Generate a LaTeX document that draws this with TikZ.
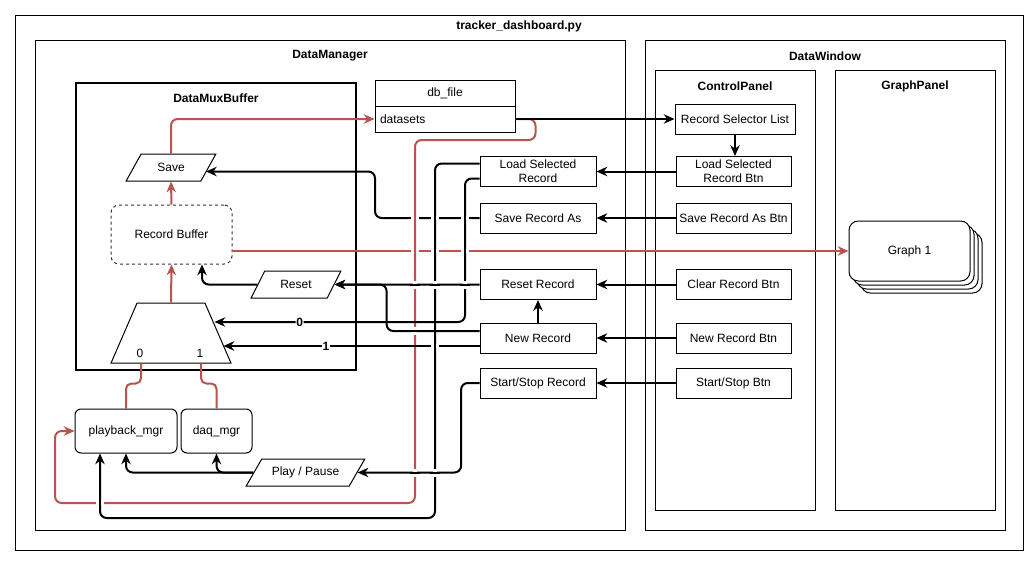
\documentclass[tikz,border=0pt]{standalone}
\usepackage{fontspec}
\setmainfont{Liberation Sans}
\usetikzlibrary{arrows.meta,calc,shapes.geometric,shadows}
\definecolor{datared}{HTML}{B85450}

\tikzset{
		every node/.style = {font=\fontsize{9}{10.5}\selectfont},
		container/.style  = {draw, line width=0.75pt, fill=white, inner sep=0pt},
		ttl/.style        = {font=\fontsize{9}{10.5}\selectfont\bfseries, inner sep=1pt},
		box/.style        = {draw, line width=0.75pt, fill=white, align=center,
				inner sep=1pt, minimum width=87pt, minimum height=22.5pt},
		btn/.style        = {box, minimum width=86.25pt},
		mgr/.style        = {box, rounded corners=4.5pt, minimum height=33pt},
		iobox/.style      = {draw, line width=0.75pt, fill=white, shape=trapezium,
				trapezium stretches=true, trapezium left angle=56,
				trapezium right angle=124, minimum height=20.25pt, inner sep=1pt},
		conn/.style       = {draw, line width=1.5pt, rounded corners=5pt,
				-{Stealth[length=8pt,width=7pt,inset=2.5pt]}},
		dconn/.style      = {conn, datared},
		dline/.style      = {draw, datared, line width=1.5pt, rounded corners=4pt},
		elbl/.style       = {fill=white, inner sep=0.5pt, font=\fontsize{9}{10.5}\selectfont\bfseries}
	}

\begin{document}
\begin{tikzpicture}[x=0.75pt, y=-0.75pt]
	\useasboundingbox (0,0) rectangle (1036,561);

	\node[container, minimum width=756pt, minimum height=401.25pt] (frame) at (519,282.5) {};
	\node[container, minimum width=442.5pt, minimum height=367.5pt] (dm) at (330,285) {};
	\node[container, minimum width=270pt, minimum height=367.5pt] (dw) at (825,285) {};
	\node[container, line width=1.5pt, minimum width=210pt, minimum height=215.25pt] (dmb) at (216,226.5) {};
	\node[container, minimum width=120pt, minimum height=330pt] (cp) at (735,290) {};
	\node[container, minimum width=120pt, minimum height=330pt] (gp) at (915,290) {};

	\node[ttl] (frame title) at ($(frame.north)+(0,12)$) {tracker\_dashboard.py};
	\node[ttl] (dm title) at ($(dm.north)+(0,16.5)$) {DataManager};
	\node[ttl] (dw title) at ($(dw.north)+(0,16.5)$) {DataWindow};
	\node[ttl] (dmb title) at ($(dmb.north)+(0,16.5)$) {DataMuxBuffer};
	\node[ttl] (cp title) at ($(cp.north)+(0,16.5)$) {ControlPanel};
	\node[ttl] (gp title) at ($(gp.north)+(0,16.5)$) {GraphPanel};

	\node[box, minimum width=105pt, minimum height=19.5pt] (dbfile) at (445,93) {db\_file};
	\node[box, minimum height=19.5pt, text width=97.5pt, inner xsep=3.75pt, align=left] (datasets) at (445,119) {datasets};

	\node[box, minimum width=90pt] (rsl) at (735,119) {Record Selector List};
	\node[btn] (lsrb) at (733.5,171.5) {Load Selected\\Record Btn};
	\node[btn] (srab) at (733.5,218) {Save Record As Btn};
	\node[btn] (crb) at (733.5,284.5) {Clear Record Btn};
	\node[btn] (nrb) at (733.5,338) {New Record Btn};
	\node[btn] (ssb) at (733.5,383) {Start/Stop Btn};

	\node[box, rounded corners=7pt, minimum width=90.75pt, minimum height=45pt,
		copy shadow={shadow xshift=9pt, shadow yshift=-9pt},
		copy shadow={shadow xshift=6pt, shadow yshift=-6pt},
		copy shadow={shadow xshift=3pt, shadow yshift=-3pt}] (graph) at (909.5,251) {Graph 1};

	\node[box] (lsr) at (538,171.5) {Load Selected\\Record};
	\node[box] (sra) at (538,218) {Save Record As};
	\node[box] (rr) at (538,284.5) {Reset Record};
	\node[box] (nr) at (538,338) {New Record};
	\node[box] (ssr) at (538,383) {Start/Stop Record};

	\node[iobox, minimum width=67.5pt] (save) at (171,167.5) {Save};
	\node[box, rounded corners=6pt, dash pattern=on 2.25pt off 2.25pt, draw=black!80,
		minimum width=90.75pt, minimum height=44.25pt] (recbuf) at (171.5,234.5) {Record Buffer};
	\node[iobox, minimum width=67.5pt] (reset) at (296,284.5) {Reset};
	\node[draw, line width=0.75pt, fill=white, shape=trapezium, trapezium stretches=true,
		trapezium left angle=69, trapezium right angle=69,
		minimum width=90pt, minimum height=45pt] (mux) at (171,333) {};
	\node (mux0) at ($(mux.south)+(-31,-10)$) {0};
	\node (mux1) at ($(mux.south)+(29,-10)$) {1};

	\node[mgr, minimum width=76.5pt] (playback) at (126,431) {playback\_mgr};
	\node[mgr, minimum width=53.25pt] (daq) at (216.5,431) {daq\_mgr};
	\node[iobox, minimum width=89.25pt, trapezium left angle=48, trapezium right angle=132] (pp) at (305.5,472.5) {Play / Pause};

	\draw[dconn] (save.north) |- (datasets.west);
	\draw[dconn] (recbuf.north) -- (save.south);
	\draw[dconn] (mux.north) -- (recbuf.south);
	\draw[dconn] (recbuf.east |- graph.west) -- (graph.west);
	\draw[dconn] (datasets.east) -- ++(20,0) -- ++(0,21) -- (415,140) -- (415,503) -- (55,503) |- (playback.west);
	\draw[dline] ($(mux.south)+(-30,0)$) -- ++(0,20) -| (playback.north);
	\draw[dline] ($(mux.south)+(30,0)$) -- ++(0,20) -| (daq.north);

	\draw[conn] (datasets.east) -- (rsl.west);
	\draw[conn] (rsl.south) -- (rsl.south |- lsrb.north);
	\draw[conn] (lsrb.west) -- (lsr.east);
	\draw[conn] (srab.west) -- (sra.east);
	\draw[conn] (crb.west) -- (rr.east);
	\draw[conn] (nrb.west) -- (nr.east);
	\draw[conn] (ssb.west) -- (ssr.east);
	\draw[conn] (nr.north) -- (rr.south);
	\draw[conn] (rr.west) -- (reset.east);
	\draw[conn] ($(nr.west)+(0,-7)$) -| ($(reset.east)+(52,0)$) -- (reset.east);
	\draw[conn] ($(lsr.west)+(0,-8)$) -| (435,518) -| ($(playback.south)+(-26,0)$);
	\draw[conn] ($(lsr.west)+(0,7)$) -| (465,322) -- node[elbl, pos=0.66] {0} ($(mux.east)+(-4,-11)$);
	\draw[conn] ($(nr.west)+(0,8)$) -- node[elbl, pos=0.6] {1} ($(mux.east)+(5,13)$);
	\draw[conn] (sra.west) -| (375,171.5) -- ($(save.east)+(-3,4)$);
	\draw[conn] (ssr.west) -| ($(pp.east)+(103.5,0)$) -- (pp.east);
	\draw[conn] (pp.west) -| (daq.south);
	\draw[conn] (pp.west) -| (playback.south);
	\draw[conn] (reset.west) -| ($(recbuf.south)+(30.5,0)$);

	\foreach \x/\y/\c in {415/218/datared, 435/218/black, 465/218/black,
			415/251/datared, 435/251/black, 465/251/black, 435/346/black, 100/503/black}
		{\fill[white] (\x-4,\y-2) rectangle (\x+4,\y+2);
		\draw[line width=1.5pt, \c] (\x,\y-5) -- (\x,\y+5);}
	\foreach \x/\y in {415/284.5, 435/284.5, 465/284.5, 415/331, 415/472.5, 435/472.5}
		{\fill[white] (\x-2,\y-4) rectangle (\x+2,\y+4);
		\draw[line width=1.5pt] (\x-5,\y) -- (\x+5,\y);}
\end{tikzpicture}
\end{document}
